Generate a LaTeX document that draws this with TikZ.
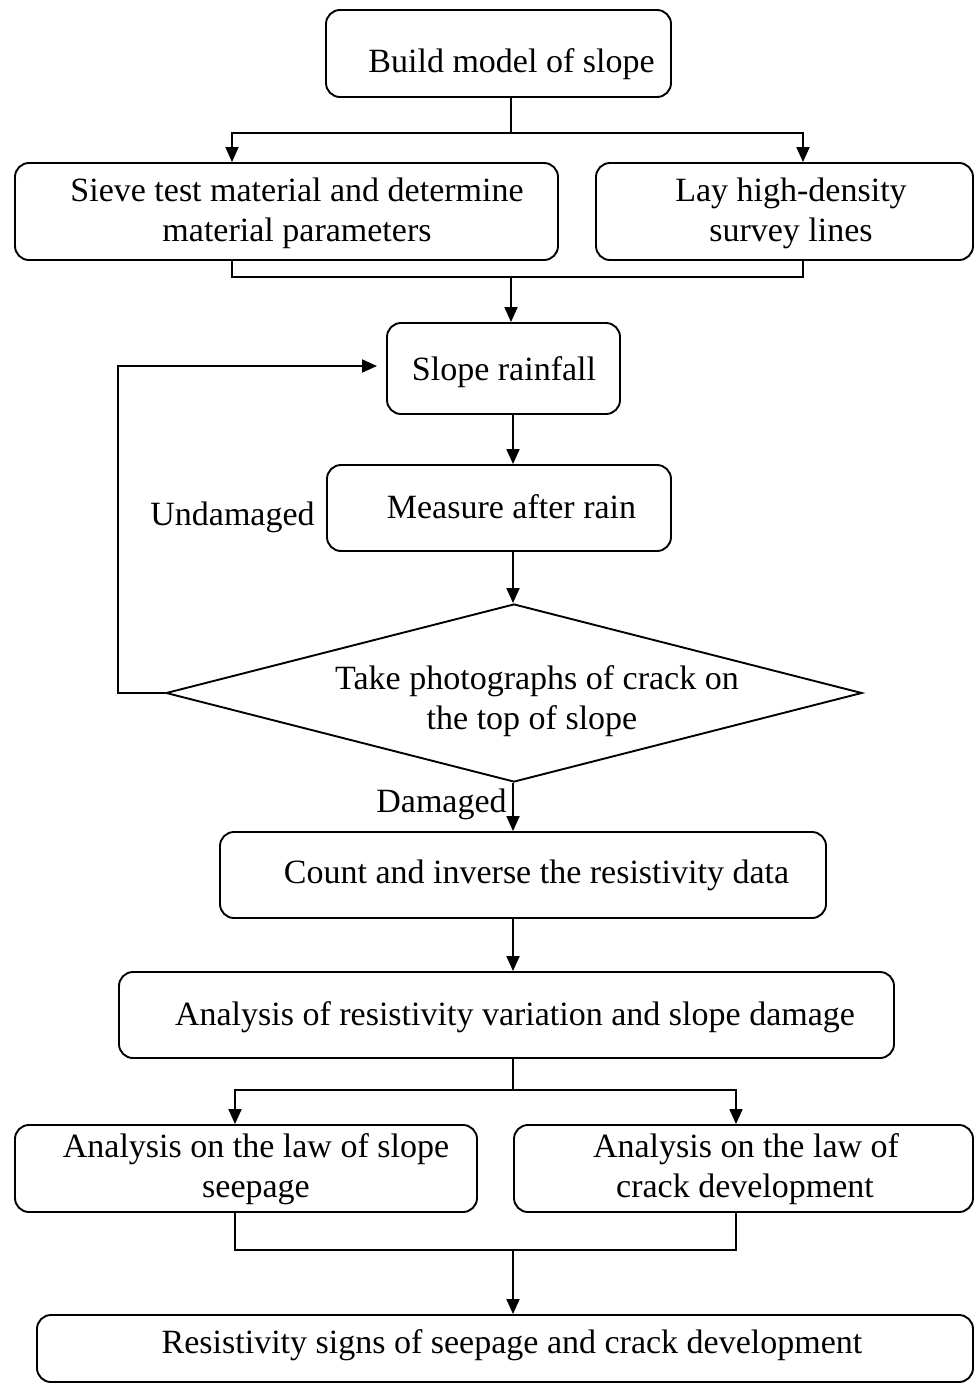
\documentclass[tikz,border=0pt]{standalone}
\usepackage{fontspec}
\setmainfont{Liberation Serif}
\usetikzlibrary{arrows.meta,shapes.geometric}
\begin{document}
\begin{tikzpicture}[x=1pt,y=-1pt,
 box/.style={draw, line width=1.9pt, rounded corners=14pt, inner sep=0pt},
 lbl/.style={anchor=base, inner sep=0pt, font=\fontsize{34}{40}\selectfont},
 con/.style={line width=1.9pt},
 arr/.style={line width=1.9pt, -{Triangle[length=15pt,width=13pt]}}]
\useasboundingbox (0,0) rectangle (977,1384);
% boxes
\node[box, minimum width=345pt, minimum height=87pt] (b1) at (498.5,53.5) {};
\node[box, minimum width=543pt, minimum height=97pt] (b2) at (286.5,211.5) {};
\node[box, minimum width=377pt, minimum height=97pt] (b3) at (784.5,211.5) {};
\node[box, minimum width=233pt, minimum height=91pt] (b4) at (503.5,368.5) {};
\node[box, minimum width=344pt, minimum height=86pt] (b5) at (499,508) {};
\node[draw, line width=1.9pt, diamond, inner sep=0pt, minimum width=696pt, minimum height=178pt] (d) at (514,693) {};
\node[box, minimum width=606pt, minimum height=86pt] (b6) at (523,875) {};
\node[box, minimum width=775pt, minimum height=86pt] (b7) at (506.5,1015) {};
\node[box, minimum width=462pt, minimum height=87pt] (b8) at (246,1168.5) {};
\node[box, minimum width=459pt, minimum height=87pt] (b9) at (743.5,1168.5) {};
\node[box, minimum width=936pt, minimum height=67pt] (b10) at (505,1348.5) {};
% texts
\node[lbl] (t1) at (511.5,72) {Build model of slope};
\node[lbl] (t2a) at (297,201) {Sieve test material and determine};
\node[lbl] (t2b) at (297,241) {material parameters};
\node[lbl] (t3a) at (791,201) {Lay high-density};
\node[lbl] (t3b) at (791,241) {survey lines};
\node[lbl] (t4) at (504,380) {Slope rainfall};
\node[lbl] (t5) at (511.5,518) {Measure after rain};
\node[lbl] (tda) at (537,689) {Take photographs of crack on};
\node[lbl] (tdb) at (532,729) {the top of slope};
\node[lbl] (t6) at (536.5,883) {Count and inverse the resistivity data};
\node[lbl] (t7) at (515,1025) {Analysis of resistivity variation and slope damage};
\node[lbl] (t8a) at (256,1157) {Analysis on the law of slope};
\node[lbl] (t8b) at (256,1197) {seepage};
\node[lbl] (t9a) at (746,1157) {Analysis on the law of};
\node[lbl] (t9b) at (745,1197) {crack development};
\node[lbl] (t10) at (512,1353) {Resistivity signs of seepage and crack development};
\node[lbl] (lu) at (232.5,525) {Undamaged};
\node[lbl] (ld) at (441.5,812) {Damaged};
% junction coordinates
\coordinate (jT) at (511,133);
\coordinate (xL1) at (232,0);
\coordinate (xR1) at (803,0);
\coordinate (jM) at (511,277);
\coordinate (xc) at (513,0);
\coordinate (loopC) at (118,693);
\coordinate (loopEnd) at (377,366);
\coordinate (j3) at (513,1090);
\coordinate (j4) at (513,1250);
\coordinate (xL2) at (235,0);
\coordinate (xR2) at (736,0);
% connectors
\draw[con] (b1.south -| jT) -- (jT);
\draw[arr] (jT) -| (b2.north -| xL1);
\draw[arr] (jT) -| (b3.north -| xR1);
\draw[con] (b2.south -| xL1) |- (jM) -| (b3.south -| xR1);
\draw[arr] (jM) -- (b4.north -| jM);
\draw[arr] (b4.south -| xc) -- (b5.north -| xc);
\draw[arr] (b5.south -| xc) -- (d.north -| xc);
\draw[arr] (d.west) -- (loopC) |- (loopEnd);
\draw[arr] (d.south -| xc) -- (b6.north -| xc);
\draw[arr] (b6.south -| xc) -- (b7.north -| xc);
\draw[con] (b7.south -| xc) -- (j3);
\draw[arr] (j3) -| (b8.north -| xL2);
\draw[arr] (j3) -| (b9.north -| xR2);
\draw[con] (b8.south -| xL2) |- (j4) -| (b9.south -| xR2);
\draw[arr] (j4) -- (b10.north -| j4);
\end{tikzpicture}
\end{document}
